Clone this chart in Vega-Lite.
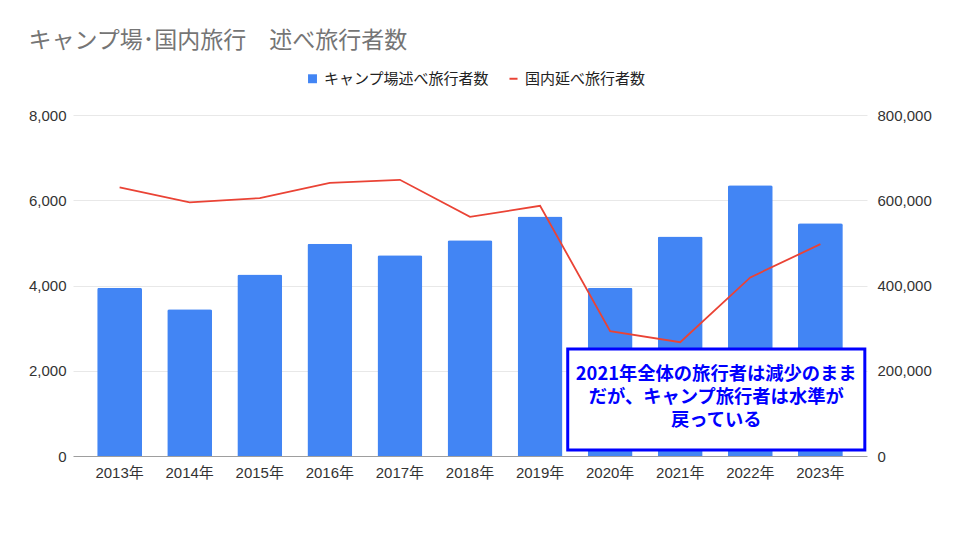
{
  "$schema": "https://vega.github.io/schema/vega-lite/v6.json",
  "width": 794,
  "height": 341,
  "autosize": {"type": "none"},
  "padding": {"left": 73, "top": 115, "right": 93, "bottom": 84},
  "background": "white",
  "title": {
    "text": "キャンプ場･国内旅行　述べ旅行者数",
    "anchor": "start",
    "frame": "bounds",
    "fontSize": 23,
    "fontWeight": "normal",
    "color": "#757575",
    "font": "Noto Sans CJK JP",
    "offset": 18
  },
  "config": {
    "view": {"stroke": null},
    "axis": {
      "labelFont": "Liberation Sans, Noto Sans CJK JP",
      "labelFontSize": 15,
      "labelColor": "#333333",
      "domain": false,
      "ticks": false,
      "title": null
    },
    "legend": {
      "labelFont": "Noto Sans CJK JP",
      "labelFontSize": 15,
      "labelColor": "#222222",
      "labelLimit": 400
    }
  },
  "datasets": {
    "main": [
      {"year": "2013年", "camp": 3950, "domestic": 630000},
      {"year": "2014年", "camp": 3440, "domestic": 595000},
      {"year": "2015年", "camp": 4260, "domestic": 605000},
      {"year": "2016年", "camp": 4980, "domestic": 641000},
      {"year": "2017年", "camp": 4710, "domestic": 648000},
      {"year": "2018年", "camp": 5060, "domestic": 561000},
      {"year": "2019年", "camp": 5620, "domestic": 587000},
      {"year": "2020年", "camp": 3950, "domestic": 293000},
      {"year": "2021年", "camp": 5150, "domestic": 267000},
      {"year": "2022年", "camp": 6350, "domestic": 419000},
      {"year": "2023年", "camp": 5460, "domestic": 497000}
    ],
    "note": [
      {"x1": "2020年", "x2": "2023年", "xt": "2021年", "y1": 2510, "y2": 140, "ty": 1900,
       "label": "2021年全体の旅行者は減少のまま\nだが、キャンプ旅行者は水準が\n戻っている"}
    ]
  },
  "layer": [
    {
      "layer": [
        {
          "data": {"name": "main"},
          "mark": {"type": "bar", "color": "#4285F4", "cornerRadiusTopLeft": 2, "cornerRadiusTopRight": 2},
          "encoding": {
            "x": {
              "field": "year", "type": "ordinal", "sort": null,
              "scale": {"paddingInner": 0.36, "paddingOuter": 0.345},
              "axis": {"labelAngle": 0, "labelPadding": 9, "grid": false}
            },
            "y": {
              "field": "camp", "type": "quantitative",
              "scale": {"domain": [0, 8000], "nice": false},
              "axis": {
                "orient": "left",
                "values": [0, 2000, 4000, 6000, 8000],
                "format": ",.0f",
                "labelPadding": 7,
                "grid": true,
                "gridColor": {"condition": {"test": "datum.value === 0", "value": "#9e9e9e"}, "value": "#e8e8e8"}
              }
            },
            "color": {
              "datum": "キャンプ場述べ旅行者数",
              "scale": {"domain": ["キャンプ場述べ旅行者数", "国内延べ旅行者数"], "range": ["#4285F4", "#EA4335"]},
              "legend": {
                "orient": "none",
                "legendX": 232,
                "legendY": -44,
                "direction": "horizontal",
                "title": null,
                "symbolSize": 80,
                "columnPadding": 16,
                "encode": {
                  "symbols": {
                    "update": {
                      "shape": {"signal": "datum.value === '国内延べ旅行者数' ? 'M-0.9,-0.22H0.9V0.22H-0.9Z' : 'square'"},
                      "fill": {"signal": "datum.value === '国内延べ旅行者数' ? '#EA4335' : '#4285F4'"},
                      "stroke": {"value": "transparent"},
                      "strokeWidth": {"value": 0}
                    }
                  }
                }
              }
            }
          }
        },
        {
          "data": {"name": "note"},
          "mark": {"type": "rect", "fill": "white", "stroke": "#0000FF", "strokeWidth": 3, "xOffset": -20, "x2Offset": 22},
          "encoding": {
            "x": {"field": "x1", "type": "ordinal", "bandPosition": 0},
            "x2": {"field": "x2", "bandPosition": 1},
            "y": {"field": "y1", "type": "quantitative"},
            "y2": {"field": "y2"}
          }
        },
        {
          "data": {"name": "note"},
          "mark": {
            "type": "text", "lineBreak": "\n", "align": "center", "baseline": "middle",
            "font": "Noto Sans CJK JP", "fontWeight": "bold", "fontSize": 18.3, "lineHeight": 23,
            "color": "#0000FF", "dx": 36
          },
          "encoding": {
            "x": {"field": "xt", "type": "ordinal"},
            "y": {"field": "ty", "type": "quantitative"},
            "text": {"field": "label"}
          }
        }
      ]
    },
    {
      "data": {"name": "main"},
      "mark": {"type": "line", "strokeWidth": 1.8},
      "encoding": {
        "x": {"field": "year", "type": "ordinal", "sort": null},
        "y": {
          "field": "domestic", "type": "quantitative",
          "scale": {"domain": [0, 800000], "nice": false},
          "axis": {"orient": "right", "values": [0, 200000, 400000, 600000, 800000], "format": ",.0f", "labelPadding": 10, "grid": false}
        },
        "color": {"datum": "国内延べ旅行者数"}
      }
    }
  ],
  "resolve": {"scale": {"y": "independent"}}
}
